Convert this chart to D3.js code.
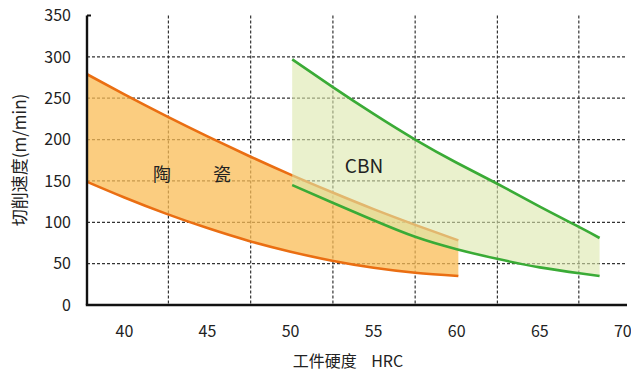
<!DOCTYPE html>
<html><head><meta charset="utf-8">
<script src="https://cdn.jsdelivr.net/npm/d3@7"></script>
<style>body{margin:0;background:#fff}svg{display:block}text{font-family:"Noto Sans CJK SC","Noto Sans",sans-serif;fill:#222}</style>
</head><body><svg id="c" width="631" height="371"></svg>
<script>
// data
const xTicks = [40, 45, 50, 55, 60, 65, 70];
const yTicks = [0, 50, 100, 150, 200, 250, 300, 350];
const yGrid = [50, 100, 150, 200, 250, 300];
const xGrid = [42.65, 47.6, 52.55, 57.5, 62.45, 67.35];
const ceramicX = [37.75, 40, 42.5, 45, 47.5, 50, 52.5, 55, 57.5, 60.1];
const ceramicHigh = [279, 254.7, 228.7, 203.9, 180.2, 157.6, 136.3, 115.9, 96.9, 78.1];
const ceramicLow = [149, 130, 110.5, 93, 77.5, 64.5, 53.5, 45, 39, 35];
const cbnX = [50.1, 52.5, 55, 57.5, 60, 62.5, 65, 67.5, 68.6];
const cbnHigh = [297, 264, 231, 200, 172, 146, 119, 93, 81];
const cbnLow = [145, 124, 102.5, 82.5, 67.5, 55.5, 45.5, 38, 35];
const yTitle = "切削速度(m/min)";
const xTitle = "工件硬度\u00a0\u00a0\u00a0\u00a0HRC";

const svg = d3.select("#c");
const x = d3.scaleLinear().domain([37.75, 70.25]).range([87, 627]);
const y = d3.scaleLinear().domain([0, 350]).range([305, 15.5]);

// grid
const g = svg.append("g");
g.selectAll(".hg").data(yGrid).join("line")
  .attr("x1", x(37.75)).attr("x2", x(70.25))
  .attr("y1", d => y(d)).attr("y2", d => y(d))
  .attr("stroke", "#333").attr("stroke-width", 1.2).attr("stroke-dasharray", "3,2");
g.selectAll(".vg").data(xGrid).join("line")
  .attr("x1", d => x(d)).attr("x2", d => x(d))
  .attr("y1", y(350)).attr("y2", y(0))
  .attr("stroke", "#333").attr("stroke-width", 1.2).attr("stroke-dasharray", "3,2");

function band(xs, hi, lo, fill, op, stroke) {
  const pts = xs.map((v, i) => ({x: v, h: hi[i], l: lo[i]}));
  const area = d3.area().x(d => x(d.x)).y0(d => y(d.l)).y1(d => y(d.h)).curve(d3.curveNatural);
  svg.append("path").datum(pts).attr("d", area).attr("fill", fill).attr("fill-opacity", op);
  const lineH = d3.line().x(d => x(d.x)).y(d => y(d.h)).curve(d3.curveNatural);
  const lineL = d3.line().x(d => x(d.x)).y(d => y(d.l)).curve(d3.curveNatural);
  [lineH, lineL].forEach(l => svg.append("path").datum(pts).attr("d", l)
    .attr("fill", "none").attr("stroke", stroke).attr("stroke-width", 2.6));
}
band(ceramicX, ceramicHigh, ceramicLow, "#f9bc55", 0.75, "#ea6e12");
band(cbnX, cbnHigh, cbnLow, "#dce8ac", 0.6, "#3aab36");

// axes
svg.append("line").attr("x1", x(37.75)).attr("x2", x(37.75)).attr("y1", y(350)).attr("y2", y(0))
  .attr("stroke", "#111").attr("stroke-width", 2.4);
svg.append("line").attr("x1", x(37.75)).attr("x2", x(37.75) + 4).attr("y1", y(350)).attr("y2", y(350))
  .attr("stroke", "#111").attr("stroke-width", 2);
svg.append("line").attr("x1", x(37.75) - 1.2).attr("x2", x(70.25)).attr("y1", y(0)).attr("y2", y(0))
  .attr("stroke", "#111").attr("stroke-width", 2.4);

svg.selectAll(".yt").data(yTicks).join("text")
  .attr("x", 71).attr("y", d => y(d)).attr("dy", "0.36em")
  .attr("text-anchor", "end").attr("font-size", 16).text(d => d);
svg.selectAll(".xt").data(xTicks).join("text")
  .attr("x", d => x(d)).attr("y", 331).attr("dy", "0.36em")
  .attr("text-anchor", "middle").attr("font-size", 16).text(d => d);

svg.append("text").attr("transform", "translate(20,160) rotate(-90)")
  .attr("text-anchor", "middle").attr("dy", "0.36em").attr("font-size", 17).text(yTitle);
svg.append("text").attr("x", 348).attr("y", 366.5)
  .attr("text-anchor", "middle").attr("font-size", 16).text(xTitle);

svg.append("text").attr("x", 162).attr("y", 175).attr("dy", "0.36em")
  .attr("text-anchor", "middle").attr("font-size", 18).text("陶");
svg.append("text").attr("x", 222).attr("y", 175).attr("dy", "0.36em")
  .attr("text-anchor", "middle").attr("font-size", 18).text("瓷");
svg.append("text").attr("x", 364).attr("y", 166).attr("dy", "0.36em")
  .attr("text-anchor", "middle").attr("font-size", 19).text("CBN");
</script></body></html>
